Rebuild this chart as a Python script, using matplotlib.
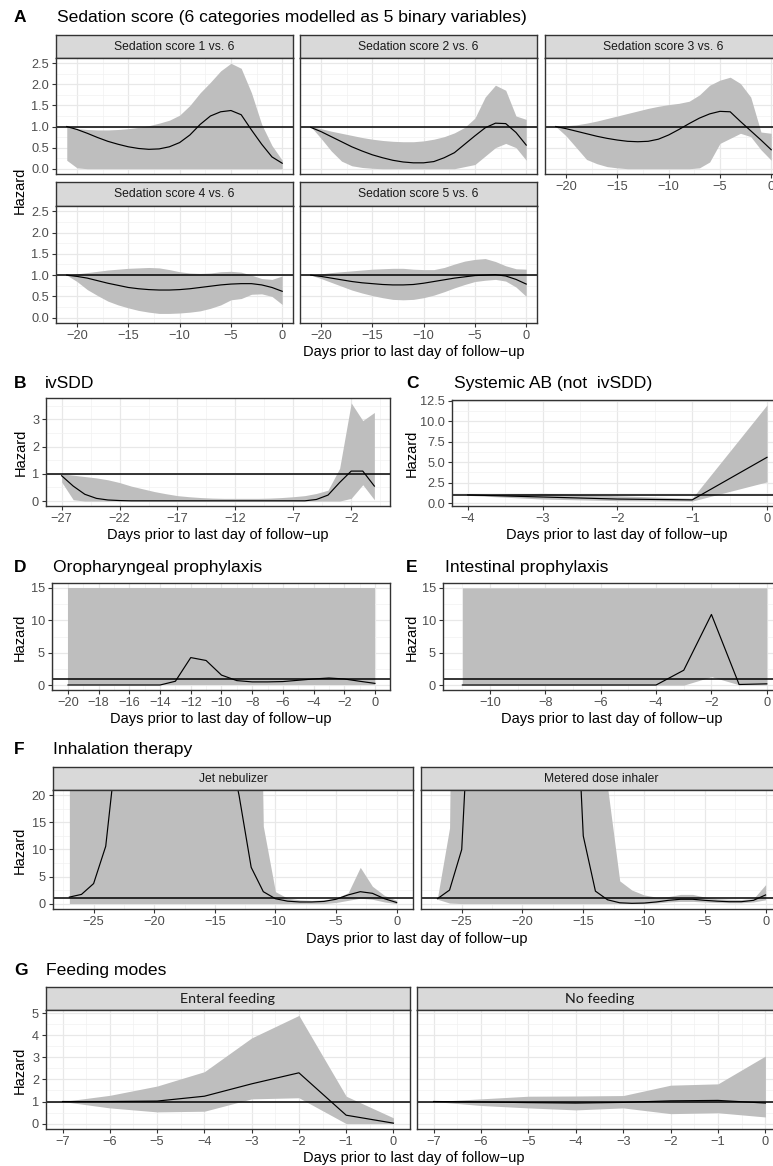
import matplotlib.pyplot as plt

plt.rcParams['font.family'] = ['Liberation Sans', 'DejaVu Sans']

# ---- data ----------------------------------------------------------------
days_a = list(range(-21, 1))
sed1_est = [1.00, 0.93, 0.84, 0.74, 0.65, 0.58, 0.52, 0.48, 0.46, 0.47, 0.52,
            0.62, 0.80, 1.05, 1.25, 1.35, 1.38, 1.28, 0.92, 0.58, 0.28, 0.13]
sed1_hi = [1.00, 0.95, 0.93, 0.92, 0.92, 0.93, 0.95, 0.98, 1.02, 1.08, 1.15,
           1.27, 1.50, 1.80, 2.05, 2.32, 2.50, 2.38, 1.80, 1.05, 0.55, 0.20]
sed1_lo = [0.20, 0.02, 0.0, 0.0, 0.0, 0.0, 0.0, 0.0, 0.0, 0.0, 0.0,
           0.0, 0.0, 0.0, 0.0, 0.0, 0.0, 0.0, 0.0, 0.0, 0.0, 0.0]
sed2_est = [0.98, 0.88, 0.76, 0.64, 0.52, 0.42, 0.33, 0.26, 0.20, 0.16, 0.14,
            0.14, 0.17, 0.26, 0.38, 0.58, 0.78, 0.97, 1.08, 1.07, 0.86, 0.56]
sed2_hi = [1.00, 0.95, 0.89, 0.84, 0.79, 0.74, 0.70, 0.67, 0.65, 0.64, 0.64,
           0.66, 0.70, 0.76, 0.85, 0.98, 1.20, 1.70, 1.98, 1.86, 1.25, 1.17]
sed2_lo = [1.00, 0.72, 0.42, 0.18, 0.07, 0.03, 0.01, 0.0, 0.0, 0.0, 0.0,
           0.0, 0.0, 0.0, 0.0, 0.05, 0.10, 0.30, 0.50, 0.60, 0.50, 0.20]
sed3_est = [1.00, 0.95, 0.89, 0.83, 0.77, 0.72, 0.68, 0.65, 0.64, 0.65, 0.70,
            0.80, 0.93, 1.07, 1.20, 1.30, 1.36, 1.35, 1.12, 0.90, 0.68, 0.45]
sed3_hi = [1.00, 1.02, 1.04, 1.08, 1.13, 1.19, 1.25, 1.31, 1.37, 1.43, 1.48,
           1.52, 1.55, 1.60, 1.75, 1.98, 2.10, 2.17, 2.02, 1.70, 0.87, 0.84]
sed3_lo = [1.00, 0.78, 0.50, 0.22, 0.12, 0.05, 0.02, 0.0, 0.0, 0.0, 0.0,
           0.0, 0.0, 0.0, 0.02, 0.16, 0.60, 0.72, 0.84, 0.76, 0.45, 0.20]
sed4_est = [1.00, 0.97, 0.93, 0.87, 0.81, 0.76, 0.71, 0.68, 0.66, 0.65, 0.65,
            0.66, 0.68, 0.71, 0.74, 0.77, 0.79, 0.80, 0.80, 0.77, 0.71, 0.62]
sed4_hi = [1.00, 1.03, 1.06, 1.09, 1.12, 1.14, 1.16, 1.17, 1.18, 1.17, 1.13,
           1.08, 1.05, 1.04, 1.05, 1.08, 1.09, 1.07, 1.00, 0.92, 0.90, 0.98]
sed4_lo = [1.00, 0.85, 0.66, 0.52, 0.39, 0.30, 0.23, 0.17, 0.13, 0.10, 0.10,
           0.11, 0.13, 0.16, 0.22, 0.30, 0.42, 0.45, 0.55, 0.56, 0.50, 0.31]
sed5_est = [1.00, 0.97, 0.93, 0.89, 0.85, 0.82, 0.80, 0.78, 0.77, 0.77, 0.78,
            0.81, 0.85, 0.89, 0.93, 0.96, 0.99, 1.00, 1.01, 0.98, 0.90, 0.79]
sed5_hi = [1.00, 1.03, 1.06, 1.08, 1.10, 1.12, 1.14, 1.15, 1.16, 1.16, 1.14,
           1.13, 1.13, 1.18, 1.26, 1.33, 1.37, 1.39, 1.32, 1.22, 1.15, 1.14]
sed5_lo = [1.00, 0.92, 0.83, 0.74, 0.65, 0.58, 0.52, 0.47, 0.43, 0.42, 0.43,
           0.47, 0.53, 0.61, 0.70, 0.78, 0.85, 0.88, 0.90, 0.86, 0.72, 0.50]
sed_labels = ['Sedation score 1 vs. 6', 'Sedation score 2 vs. 6', 'Sedation score 3 vs. 6',
              'Sedation score 4 vs. 6', 'Sedation score 5 vs. 6']

days_b = list(range(-27, 1))
ivsdd_est = [0.93, 0.55, 0.25, 0.10, 0.04, 0.02, 0.01, 0.01, 0.01, 0.01, 0.01, 0.01, 0.01, 0.01,
             0.01, 0.01, 0.01, 0.01, 0.01, 0.01, 0.01, 0.01, 0.06, 0.22, 0.68, 1.10, 1.10, 0.55]
ivsdd_hi = [1.00, 0.95, 0.90, 0.85, 0.78, 0.68, 0.55, 0.45, 0.35, 0.27, 0.20, 0.16, 0.13, 0.11,
            0.10, 0.10, 0.10, 0.10, 0.11, 0.13, 0.16, 0.20, 0.28, 0.40, 1.20, 3.60, 2.95, 3.25]
ivsdd_lo = [0.70, 0.05, 0.0, 0.0, 0.0, 0.0, 0.0, 0.0, 0.0, 0.0, 0.0, 0.0, 0.0, 0.0,
            0.0, 0.0, 0.0, 0.0, 0.0, 0.0, 0.0, 0.0, 0.0, 0.0, 0.0, 0.10, 0.60, 0.05]

days_c = [-4, -3, -2, -1, 0]
sab_est = [1.0, 0.75, 0.5, 0.4, 5.6]
sab_hi = [1.0, 1.2, 0.9, 0.6, 12.0]
sab_lo = [0.95, 0.5, 0.3, 0.25, 2.6]

days_d = list(range(-20, 1))
oro_est = [0.02, 0.02, 0.02, 0.02, 0.02, 0.02, 0.02, 0.6, 4.25, 3.8, 1.55,
           0.7, 0.5, 0.5, 0.55, 0.75, 0.95, 1.1, 0.95, 0.6, 0.27]
oro_hi = [15.0, 15.0, 15.0, 15.0, 15.0, 15.0, 15.0, 15.0, 15.0, 15.0, 15.0,
          15.0, 15.0, 15.0, 15.0, 15.0, 15.0, 15.0, 15.0, 15.0, 15.0]
oro_lo = [0.0, 0.0, 0.0, 0.0, 0.0, 0.0, 0.0, 0.0, 0.0, 0.0, 0.0,
          0.0, 0.0, 0.0, 0.0, 0.0, 0.0, 0.0, 0.0, 0.0, 0.0]

days_e = list(range(-11, 1))
int_est = [0.02, 0.02, 0.02, 0.02, 0.02, 0.02, 0.02, 0.02, 2.3, 10.9, 0.1, 0.2]
int_hi = [15.0, 15.0, 15.0, 15.0, 15.0, 15.0, 15.0, 15.0, 15.0, 15.0, 15.0, 15.0]
int_lo = [0.0, 0.0, 0.0, 0.0, 0.0, 0.0, 0.0, 0.0, 0.0, 1.3, 0.05, 0.05]

days_f = list(range(-27, 1))
jet_est = [1.2, 1.7, 3.7, 10.6, 31, 70, 120, 150, 160, 150, 120, 80, 50, 31,
           20, 6.7, 2.2, 0.9, 0.45, 0.3, 0.3, 0.4, 0.8, 1.6, 2.2, 1.9, 0.9, 0.2]
jet_hi = [150, 150, 150, 150, 150, 150, 150, 150, 150, 150, 150, 150, 150, 150,
          150, 150, 14.3, 2.2, 1.0, 0.7, 0.6, 0.7, 1.0, 2.0, 6.7, 3.2, 1.5, 0.6]
jet_lo = [0.0, 0.0, 0.0, 0.0, 0.0, 0.0, 0.0, 0.0, 0.0, 0.0, 0.0, 0.0, 0.0, 0.0,
          0.0, 0.0, 0.0, 0.0, 0.0, 0.0, 0.0, 0.0, 0.2, 0.6, 1.0, 0.8, 0.3, 0.0]
mdi_est = [0.9, 2.5, 10, 54, 120, 160, 170, 160, 140, 120, 90, 60, 12.5, 2.3,
           0.7, 0.15, 0.05, 0.1, 0.3, 0.6, 0.8, 0.8, 0.6, 0.45, 0.35, 0.35, 0.6, 1.6]
mdi_hi = [1.0, 14, 200, 200, 200, 200, 200, 200, 200, 200, 200, 200, 200, 200,
          21.5, 4.2, 2.5, 1.6, 1.2, 1.3, 1.7, 1.7, 1.2, 0.9, 0.8, 0.75, 0.9, 3.5]
mdi_lo = [0.8, 0.1, 0.0, 0.0, 0.0, 0.0, 0.0, 0.0, 0.0, 0.0, 0.0, 0.0, 0.0, 0.0,
          0.0, 0.0, 0.0, 0.0, 0.1, 0.3, 0.4, 0.4, 0.3, 0.2, 0.15, 0.15, 0.3, 0.7]

days_g = [-7, -6, -5, -4, -3, -2, -1, 0]
ent_est = [1.0, 1.0, 1.02, 1.24, 1.8, 2.3, 0.38, 0.02]
ent_hi = [1.0, 1.28, 1.7, 2.35, 3.88, 4.9, 1.24, 0.26]
ent_lo = [1.0, 0.71, 0.53, 0.56, 1.12, 1.17, 0.0, 0.0]
nof_est = [1.0, 0.98, 0.95, 0.93, 0.96, 1.03, 1.05, 0.93]
nof_hi = [1.0, 1.12, 1.24, 1.25, 1.27, 1.74, 1.8, 3.06]
nof_lo = [1.0, 0.82, 0.71, 0.62, 0.71, 0.45, 0.49, 0.3]

# ---- helpers -------------------------------------------------------------
W, H = 773, 1166
fig = plt.figure(figsize=(W / 100, H / 100), dpi=100)
RIB = '#BEBEBE'
BORDER = '#333333'


def add_box(l, t, r, b):
    return fig.add_axes([l / W, 1 - b / H, (r - l) / W, (b - t) / H])


def mids(ticks, lo, hi):
    step = ticks[1] - ticks[0]
    cand = [ticks[0] - step / 2] + [t + step / 2 for t in ticks]
    return [c for c in cand if lo < c < hi]


def panel(box, days, est, lo, hi, xlim, ylim, xt, yt, ytl=None, xlab=True, ylab=True):
    ax = add_box(*box)
    ax.fill_between(days, lo, hi, color=RIB, lw=0, zorder=2)
    ax.plot(days, est, color='black', lw=0.85, zorder=3)
    ax.axhline(1, color='black', lw=1.1, zorder=4)
    ax.set_xlim(xlim)
    ax.set_ylim(ylim)
    ax.set_xticks(xt)
    ax.set_yticks(yt)
    ax.set_xticks(mids(xt, *xlim), minor=True)
    ax.set_yticks(mids(yt, *ylim), minor=True)
    ax.grid(which='major', color='#E8E8E8', lw=0.9)
    ax.grid(which='minor', color='#F1F1F1', lw=0.5)
    ax.set_axisbelow(True)
    ax.tick_params(which='minor', length=0)
    ax.tick_params(which='major', length=3, width=0.8, color=BORDER,
                   labelsize=9.2, labelcolor='#4D4D4D', pad=2)
    if ytl:
        ax.set_yticklabels(ytl)
    if not xlab:
        ax.tick_params(axis='x', length=0, labelbottom=False)
    if not ylab:
        ax.tick_params(axis='y', length=0, labelleft=False)
    for s in ax.spines.values():
        s.set_color(BORDER)
        s.set_linewidth(1.0)
        s.set_zorder(5)
    return ax


def strip(l, t, r, b, label, family=None, size=8.7):
    ax = add_box(l, t, r, b)
    ax.set_facecolor('#D9D9D9')
    ax.set_xticks([])
    ax.set_yticks([])
    for s in ax.spines.values():
        s.set_color(BORDER)
        s.set_linewidth(1.0)
    kw = {'family': family} if family else {}
    ax.text(0.5, 0.48, label, ha='center', va='center', size=size,
            color='#1A1A1A', transform=ax.transAxes, **kw)


def title(x_letter, x_text, y, letter, text):
    fig.text(x_letter / W, 1 - y / H, letter, weight='bold', size=12.5, va='baseline')
    fig.text(x_text / W, 1 - y / H, text, size=12.6, va='baseline')


def xlabel(xc, y):
    fig.text(xc / W, 1 - y / H, 'Days prior to last day of follow\u2212up',
             ha='center', va='baseline', size=10.5)


def ylabel(x, yc):
    fig.text(x / W, 1 - yc / H, 'Hazard', rotation=90, ha='center', va='center', size=10.5)


# ---- A: sedation score ---------------------------------------------------
title(14, 57, 22, 'A', 'Sedation score (6 categories modelled as 5 binary variables)')
xa = (-22.05, 1.05)
ya = (-0.125, 2.625)
yt_a = [0, 0.5, 1, 1.5, 2, 2.5]
ytl_a = ['0.0', '0.5', '1.0', '1.5', '2.0', '2.5']
xt_a = [-20, -15, -10, -5, 0]
cols_a = [(56, 293), (300, 537), (545, 782)]
sed_data = [(sed1_est, sed1_lo, sed1_hi), (sed2_est, sed2_lo, sed2_hi),
            (sed3_est, sed3_lo, sed3_hi), (sed4_est, sed4_lo, sed4_hi),
            (sed5_est, sed5_lo, sed5_hi)]
for i, (est, lo, hi) in enumerate(sed_data):
    row, col = divmod(i, 3)
    l, r = cols_a[col]
    st, pt, pb = (35, 58, 174) if row == 0 else (182, 206, 323)
    strip(l, st, r, pt, sed_labels[i])
    panel((l, pt, r, pb), days_a, est, lo, hi, xa, ya, xt_a, yt_a, ytl_a,
          xlab=(row == 1 or col == 2), ylab=(col == 0))
xlabel(414, 356)
ylabel(20, 190)

# ---- B: ivSDD ------------------------------------------------------------
title(14, 45, 388, 'B', 'ivSDD')
panel((46, 398, 390, 506), days_b, ivsdd_est, ivsdd_lo, ivsdd_hi, (-28.35, 1.35), (-0.18, 3.78),
      [-27, -22, -17, -12, -7, -2], [0, 1, 2, 3])
xlabel(218, 539)
ylabel(21, 452)

# ---- C: systemic AB ------------------------------------------------------
title(406, 454, 388, 'C', 'Systemic AB (not  ivSDD)')
panel((452, 400, 782, 506), days_c, sab_est, sab_lo, sab_hi, (-4.21, 0.2), (-0.35, 12.6),
      [-4, -3, -2, -1, 0], [0, 2.5, 5, 7.5, 10, 12.5],
      ['0.0', '2.5', '5.0', '7.5', '10.0', '12.5'])
xlabel(617, 539)
ylabel(412, 453)

# ---- D: oropharyngeal prophylaxis ----------------------------------------
title(14, 53, 572, 'D', 'Oropharyngeal prophylaxis')
panel((52, 583, 390, 690), days_d, oro_est, oro_lo, oro_hi, (-21.04, 0.98), (-0.75, 15.75),
      list(range(-20, 1, 2)), [0, 5, 10, 15])
xlabel(221, 723)
ylabel(20, 637)

# ---- E: intestinal prophylaxis -------------------------------------------
title(406, 445, 572, 'E', 'Intestinal prophylaxis')
panel((443, 583, 782, 690), days_e, int_est, int_lo, int_hi, (-11.7, 0.55), (-0.75, 15.75),
      [-10, -8, -6, -4, -2, 0], [0, 5, 10, 15])
xlabel(612, 723)
ylabel(412, 637)

# ---- F: inhalation therapy -----------------------------------------------
title(14, 53, 754, 'F', 'Inhalation therapy')
xf = (-28.35, 1.35)
yf = (-1, 21)
strip(53, 767, 413, 790, 'Jet nebulizer')
panel((53, 790, 413, 909), days_f, jet_est, jet_lo, jet_hi, xf, yf,
      [-25, -20, -15, -10, -5, 0], [0, 5, 10, 15, 20])
strip(421, 767, 782, 790, 'Metered dose inhaler')
panel((421, 790, 782, 909), days_f, mdi_est, mdi_lo, mdi_hi, xf, yf,
      [-25, -20, -15, -10, -5, 0], [0, 5, 10, 15, 20], ylab=False)
xlabel(417, 943)
ylabel(20, 850)

# ---- G: feeding modes ----------------------------------------------------
title(14, 46, 975, 'G', 'Feeding modes')
xg = (-7.35, 0.35)
yg = (-0.245, 5.145)
strip(46, 987, 410, 1010, 'Enteral feeding', family='Lato', size=10.3)
panel((46, 1010, 410, 1129), days_g, ent_est, ent_lo, ent_hi, xg, yg,
      days_g, [0, 1, 2, 3, 4, 5])
strip(417, 987, 782, 1010, 'No feeding', family='Lato', size=10.3)
panel((417, 1010, 782, 1129), days_g, nof_est, nof_lo, nof_hi, xg, yg,
      days_g, [0, 1, 2, 3, 4, 5], ylab=False)
xlabel(414, 1162)
ylabel(20, 1070)

fig.savefig('out.png', dpi=100)
